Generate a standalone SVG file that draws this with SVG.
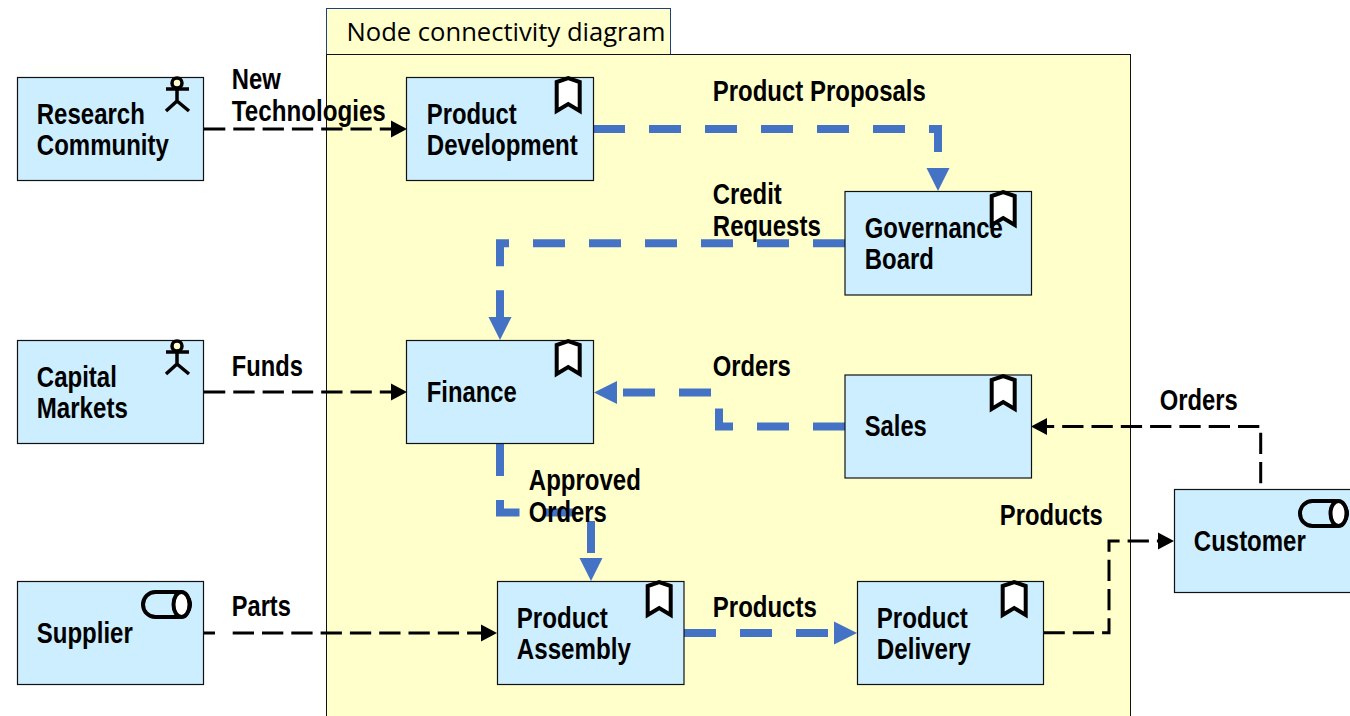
<svg xmlns="http://www.w3.org/2000/svg" width="1350" height="716" viewBox="0 0 1350 716">
<style>
.n{fill:#cceeff;stroke:#111;stroke-width:1.2}
text{font-family:"Liberation Sans",Arial,sans-serif;font-weight:bold;font-size:29px;fill:#000;transform:translate(.3px,.6px)}
.t{font-family:"Open Sans","Noto Sans",sans-serif;font-weight:normal;font-size:25px}
.b{fill:none;stroke:#4472c4;stroke-width:8;stroke-dasharray:32 24}
.k{fill:none;stroke:#000;stroke-width:3;stroke-dasharray:21.300 8}
.i{stroke:#000;stroke-width:4;fill:#fff;stroke-linejoin:miter}
</style>
<defs>
<marker id="ab" markerUnits="userSpaceOnUse" markerWidth="24" markerHeight="24" refX="0" refY="12" orient="auto" viewBox="0 0 24 24"><path d="M0,.5L23,12L0,23.500Z" fill="#4472c4"/></marker>
<marker id="ak" markerUnits="userSpaceOnUse" markerWidth="16" markerHeight="18" refX="0" refY="9" orient="auto" viewBox="0 0 16 18"><path d="M0,.5L16,9L0,17.500Z" fill="#000"/></marker>
<g id="bm"><path class="i" d="M3,35V6L14.500,2L26,6V35L14.500,28Z"/></g>
<g id="ac"><circle cx="177" cy="83" r="5" fill="#ffffcc" stroke="#000" stroke-width="3.500"/><path d="M166,89H189M177,88V101L166,111M177,101L189,111" fill="none" stroke="#000" stroke-width="3.500"/></g>
<g id="cy"><rect x="1" y="1" width="47" height="25" rx="12.500" fill="#cceeff" stroke="#000" stroke-width="4"/><ellipse cx="39.500" cy="13.500" rx="8" ry="12.500" fill="#fff" stroke="#000" stroke-width="4"/></g>
</defs>
<g id="panel">
<rect x="326.500" y="8.500" width="344" height="46" fill="#ffffcc" stroke="#1f3f7f" stroke-width="1"/>
<rect x="326.500" y="54.500" width="804" height="680" fill="#ffffcc" stroke="#111" stroke-width="1"/>
<text class="t" x="346.200" y="40.400" textLength="319" lengthAdjust="spacingAndGlyphs">Node connectivity diagram</text>
</g>
<g id="connectors">
<path class="k" d="M204,129H391" marker-end="url(#ak)"/>
<path class="k" d="M204,392H391" marker-end="url(#ak)"/>
<path class="k" d="M203.500,633H215M232.700,633H481" marker-end="url(#ak)"/>
<path class="k" d="M1043.500,632.700H1109V541H1158" marker-end="url(#ak)"/>
<path class="k" d="M1260.700,483.300V432.700"/>
<path class="k" d="M1259.300,426.500H1047" marker-end="url(#ak)"/>
<path class="b" d="M593,129H938V168" marker-end="url(#ab)"/>
<path class="b" d="M845,243.300H500V317" marker-end="url(#ab)"/>
<path class="b" d="M845,426.500H719V392.500H617" marker-end="url(#ab)"/>
<path class="b" d="M500,444V512.500H591V558" marker-end="url(#ab)"/>
<path class="b" d="M684,633H834" marker-end="url(#ab)"/>
</g>
<g id="research-community"><rect class="n" x="17.500" y="77.500" width="186" height="103"/><use href="#ac"/><text x="36.500" y="123" textLength="108" lengthAdjust="spacingAndGlyphs">Research</text><text x="36.500" y="154" textLength="132" lengthAdjust="spacingAndGlyphs">Community</text></g>
<g id="product-development"><rect class="n" x="406.500" y="77.500" width="187" height="103"/><use href="#bm" x="553.700" y="76"/><text x="426.500" y="123" textLength="90" lengthAdjust="spacingAndGlyphs">Product</text><text x="426.500" y="154" textLength="151" lengthAdjust="spacingAndGlyphs">Development</text></g>
<g id="governance-board"><rect class="n" x="845" y="191.500" width="186.500" height="103.500"/><text x="864.500" y="237" textLength="138" lengthAdjust="spacingAndGlyphs">Governance</text><text x="864.500" y="268" textLength="69" lengthAdjust="spacingAndGlyphs">Board</text><use href="#bm" x="988.700" y="190"/></g>
<g id="capital-markets"><rect class="n" x="17.500" y="340.500" width="186" height="103"/><use href="#ac" y="263"/><text x="36.500" y="386" textLength="80" lengthAdjust="spacingAndGlyphs">Capital</text><text x="36.500" y="417" textLength="91" lengthAdjust="spacingAndGlyphs">Markets</text></g>
<g id="finance"><rect class="n" x="406.500" y="340.500" width="187" height="103"/><use href="#bm" x="553.700" y="339"/><text x="426.500" y="401" textLength="90" lengthAdjust="spacingAndGlyphs">Finance</text></g>
<g id="sales"><rect class="n" x="845" y="375" width="186.500" height="103"/><use href="#bm" x="988.700" y="374"/><text x="864.500" y="435" textLength="62" lengthAdjust="spacingAndGlyphs">Sales</text></g>
<g id="supplier"><rect class="n" x="17.500" y="581.500" width="186" height="103"/><use href="#cy" x="142" y="591"/><text x="36.500" y="642" textLength="96" lengthAdjust="spacingAndGlyphs">Supplier</text></g>
<g id="product-assembly"><rect class="n" x="497.500" y="581.500" width="186.500" height="103"/><use href="#bm" x="644.700" y="580"/><text x="516.500" y="627" textLength="91" lengthAdjust="spacingAndGlyphs">Product</text><text x="516.500" y="658" textLength="114" lengthAdjust="spacingAndGlyphs">Assembly</text></g>
<g id="product-delivery"><rect class="n" x="857.500" y="581.500" width="186" height="103"/><use href="#bm" x="999.700" y="580"/><text x="876.500" y="627" textLength="91" lengthAdjust="spacingAndGlyphs">Product</text><text x="876.500" y="658" textLength="94" lengthAdjust="spacingAndGlyphs">Delivery</text></g>
<g id="customer"><rect class="n" x="1174.500" y="489.500" width="190" height="103"/><use href="#cy" x="1299" y="500"/><text x="1193.500" y="550" textLength="112" lengthAdjust="spacingAndGlyphs">Customer</text></g>
<g id="labels">
<text x="231.500" y="88.500" textLength="49" lengthAdjust="spacingAndGlyphs">New</text>
<text x="231.500" y="120.500" textLength="154" lengthAdjust="spacingAndGlyphs">Technologies</text>
<text x="712.500" y="100.500" textLength="213" lengthAdjust="spacingAndGlyphs">Product Proposals</text>
<text x="712.500" y="203.500" textLength="69" lengthAdjust="spacingAndGlyphs">Credit</text>
<text x="712.500" y="235.500" textLength="108" lengthAdjust="spacingAndGlyphs">Requests</text>
<text x="231.500" y="375.500" textLength="71" lengthAdjust="spacingAndGlyphs">Funds</text>
<text x="712.500" y="375.500" textLength="78" lengthAdjust="spacingAndGlyphs">Orders</text>
<text x="1159.500" y="409.500" textLength="78" lengthAdjust="spacingAndGlyphs">Orders</text>
<text x="528.500" y="489.500" textLength="112" lengthAdjust="spacingAndGlyphs">Approved</text>
<text x="528.500" y="521.500" textLength="78" lengthAdjust="spacingAndGlyphs">Orders</text>
<text x="999.500" y="524.500" textLength="103" lengthAdjust="spacingAndGlyphs">Products</text>
<text x="231.500" y="615.500" textLength="59" lengthAdjust="spacingAndGlyphs">Parts</text>
<text x="712.500" y="616.500" textLength="104" lengthAdjust="spacingAndGlyphs">Products</text>
</g>
</svg>
